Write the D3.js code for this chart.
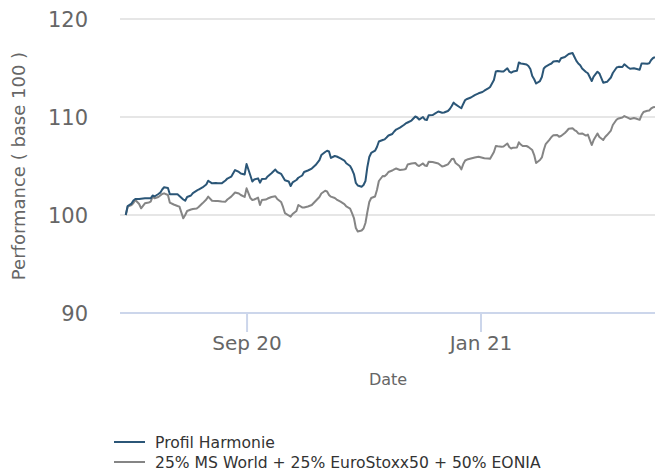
<!DOCTYPE html>
<html><head><meta charset="utf-8">
<script src="https://cdn.jsdelivr.net/npm/d3@7"></script>
<style>
html,body{margin:0;padding:0;background:#fff;}
svg{display:block;font-family:"DejaVu Sans",Verdana,sans-serif;}
</style></head>
<body><svg id="chart" width="655" height="472"></svg>
<script>
const dates = ["2020-06-30","2020-07-01","2020-07-03","2020-07-04","2020-07-05","2020-07-07","2020-07-08","2020-07-10","2020-07-12","2020-07-13",
"2020-07-14","2020-07-15","2020-07-17","2020-07-18","2020-07-19","2020-07-20","2020-07-22","2020-07-23","2020-07-25","2020-07-27",
"2020-07-28","2020-07-30","2020-07-31","2020-08-01","2020-08-03","2020-08-04","2020-08-06","2020-08-07","2020-08-09","2020-08-11",
"2020-08-12","2020-08-14","2020-08-16","2020-08-17","2020-08-19","2020-08-21","2020-08-22","2020-08-24","2020-08-26","2020-08-28",
"2020-08-29","2020-08-31","2020-09-01","2020-09-03","2020-09-04","2020-09-05","2020-09-07","2020-09-08","2020-09-09","2020-09-11",
"2020-09-12","2020-09-14","2020-09-16","2020-09-17","2020-09-19","2020-09-20","2020-09-21","2020-09-23","2020-09-24","2020-09-25",
"2020-09-27","2020-09-28","2020-09-30","2020-10-01","2020-10-03","2020-10-05","2020-10-07","2020-10-09","2020-10-10","2020-10-12",
"2020-10-13","2020-10-14","2020-10-15","2020-10-17","2020-10-18","2020-10-20","2020-10-22","2020-10-23","2020-10-25","2020-10-26",
"2020-10-27","2020-10-28","2020-10-29","2020-10-31","2020-11-01","2020-11-02","2020-11-03","2020-11-04","2020-11-05","2020-11-07",
"2020-11-08","2020-11-09","2020-11-11","2020-11-12","2020-11-13","2020-11-14","2020-11-16","2020-11-17","2020-11-18","2020-11-20",
"2020-11-22","2020-11-23","2020-11-24","2020-11-26","2020-11-28","2020-11-29","2020-11-30","2020-12-02","2020-12-03","2020-12-04",
"2020-12-05","2020-12-07","2020-12-08","2020-12-10","2020-12-12","2020-12-13","2020-12-15","2020-12-16","2020-12-17","2020-12-18",
"2020-12-19","2020-12-21","2020-12-22","2020-12-23","2020-12-24","2020-12-25","2020-12-27","2020-12-29","2020-12-31","2021-01-02",
"2021-01-03","2021-01-05","2021-01-06","2021-01-08","2021-01-09","2021-01-10","2021-01-12","2021-01-13","2021-01-15","2021-01-16",
"2021-01-17","2021-01-18","2021-01-20","2021-01-21","2021-01-22","2021-01-23","2021-01-25","2021-01-26","2021-01-27","2021-01-28",
"2021-01-29","2021-01-30","2021-02-01","2021-02-02","2021-02-03","2021-02-04","2021-02-06","2021-02-07","2021-02-08","2021-02-10",
"2021-02-11","2021-02-12","2021-02-14","2021-02-15","2021-02-16","2021-02-18","2021-02-19","2021-02-20","2021-02-21","2021-02-22",
"2021-02-23","2021-02-25","2021-02-26","2021-02-28","2021-03-01","2021-03-03","2021-03-04","2021-03-06","2021-03-07","2021-03-08",
"2021-03-10","2021-03-11","2021-03-13","2021-03-14","2021-03-16","2021-03-17","2021-03-19","2021-03-20","2021-03-22","2021-03-23",
"2021-03-25","2021-03-26","2021-03-27","2021-03-29","2021-03-30","2021-03-31","2021-04-01","2021-04-02"];

const profilHarmonie = [100.00,100.92,101.17,101.48,101.63,101.63,101.66,101.70,101.70,101.70,
101.99,101.89,102.14,102.28,102.60,102.83,102.76,102.11,102.11,102.11,
101.94,101.58,101.46,101.84,101.99,102.24,102.48,102.60,102.81,103.11,
103.50,103.23,103.27,103.23,103.23,103.52,103.72,103.91,104.59,104.39,
104.23,104.13,105.20,104.03,103.42,103.62,103.74,103.30,103.67,103.69,
103.93,104.26,104.64,104.39,104.20,103.88,103.54,103.42,102.96,103.32,
103.57,103.80,104.03,104.39,104.54,104.74,105.10,105.61,106.12,106.43,
106.56,106.48,105.82,106.02,105.97,105.77,105.56,105.28,105.00,104.64,
104.18,103.27,103.01,102.89,103.06,103.47,104.90,105.92,106.33,106.56,
106.94,107.50,107.65,107.72,107.91,108.11,108.27,108.52,108.72,108.91,
109.18,109.34,109.44,109.64,110.05,109.95,109.74,110.00,109.74,109.69,
110.18,110.20,110.31,110.56,110.44,110.46,110.61,110.82,111.12,111.47,
111.28,111.02,110.89,111.33,111.73,111.84,111.99,112.24,112.42,112.55,
112.68,112.91,113.06,113.78,114.64,114.69,114.64,114.64,114.97,114.64,
114.52,114.64,114.71,115.56,115.46,115.44,115.36,115.20,114.90,114.18,
113.85,113.42,113.67,114.08,114.95,115.15,115.36,115.46,115.66,115.71,
115.64,115.99,116.12,116.28,116.43,116.53,116.12,115.73,115.46,115.28,
114.95,114.59,114.46,113.67,114.13,114.62,114.44,113.50,113.55,113.59,
114.03,114.49,115.05,115.12,115.10,115.38,115.05,114.92,114.97,114.92,
114.82,115.46,115.46,115.43,115.48,115.82,116.02,116.12];

const benchmark = [100.00,100.85,101.02,101.22,101.53,101.12,100.68,101.19,101.28,101.36,
101.87,101.70,101.84,101.99,102.14,102.21,102.04,101.26,101.07,100.92,
100.85,99.66,100.00,100.41,100.56,100.61,100.66,100.82,101.19,101.58,
101.87,101.46,101.43,101.43,101.38,101.36,101.58,101.87,102.30,102.19,
102.04,101.84,102.72,101.73,101.53,101.58,101.77,101.02,101.53,101.58,
101.68,101.84,101.91,101.63,101.33,100.82,100.20,99.95,99.83,100.10,
100.41,101.02,100.77,100.77,100.87,101.02,101.43,101.84,102.19,102.47,
102.40,102.04,101.87,101.73,101.58,101.36,101.12,100.87,100.66,100.20,
99.69,98.67,98.32,98.42,98.62,99.18,100.31,101.33,101.73,101.89,
102.55,103.47,103.98,103.95,104.13,104.39,104.54,104.66,104.74,104.59,
104.64,104.69,105.15,105.26,105.31,105.10,105.00,105.26,105.05,105.00,
105.43,105.41,105.36,105.26,104.95,105.00,105.17,105.41,105.71,105.73,
105.31,105.00,104.66,105.20,105.56,105.66,105.77,105.87,105.95,105.85,
105.79,105.77,105.73,106.43,107.04,107.01,106.97,106.99,107.30,106.94,
106.79,106.87,106.89,107.42,107.19,107.04,107.04,106.94,106.79,106.63,
106.12,105.31,105.61,105.87,106.63,107.24,107.70,107.96,108.13,108.16,
107.98,108.06,108.37,108.57,108.80,108.85,108.67,108.55,108.32,108.29,
108.32,108.11,108.21,107.14,107.65,108.32,107.96,107.65,107.96,108.16,
108.62,109.18,109.74,109.85,109.95,110.10,109.90,109.80,109.90,109.85,
109.71,110.20,110.51,110.63,110.66,110.87,110.99,111.02];

const seriesNames = ["Profil Harmonie", "25% MS World + 25% EuroStoxx50 + 50% EONIA"];
const seriesColors = ["#2b5677", "#858585"];
const yTicks = [90, 100, 110, 120];
const xTicks = ["2020-09-01", "2021-01-01"];
const xDomain = ["2020-06-27", "2021-04-02"];
const yTitle = "Performance ( base 100 )";
const xTitle = "Date";

(function () {
const parse = d3.utcParse("%Y-%m-%d");
const svg = d3.select("#chart");
const pLeft = 120, pRight = 655, pTop = 19, pBottom = 313;

const x = d3.scaleUtc().domain(xDomain.map(parse)).range([pLeft, pRight]);
const y = d3.scaleLinear().domain([90, 120]).range([pBottom, pTop]);

// gridlines
svg.append("g").selectAll("line").data(yTicks.filter(v => v !== 90)).join("line")
  .attr("x1", pLeft).attr("x2", pRight)
  .attr("y1", d => y(d)).attr("y2", d => y(d))
  .attr("stroke", "#e6e6e6").attr("stroke-width", 2);

// y axis labels
const yAxis = d3.axisLeft(y).tickValues(yTicks).tickSize(0).tickPadding(0).tickFormat(d3.format("d"));
const gy = svg.append("g").attr("transform", "translate(88,0)").call(yAxis);
gy.select(".domain").remove();
gy.selectAll("text").attr("font-size", 21).attr("fill", "#666").attr("font-family", "DejaVu Sans").attr("dy", "0.36em");

// x axis
const xAxis = d3.axisBottom(x).tickValues(xTicks.map(parse)).tickFormat(d3.utcFormat("%b %y")).tickSize(19).tickPadding(0);
const gx = svg.append("g").attr("transform", `translate(0,${pBottom})`).call(xAxis);
gx.select(".domain").attr("stroke", "#ccd6eb").attr("stroke-width", 2).attr("d", `M${pLeft},0H${pRight}`);
gx.selectAll(".tick line").attr("stroke", "#ccd6eb").attr("stroke-width", 2);
gx.selectAll("text").attr("font-size", 20).attr("fill", "#666").attr("font-family", "DejaVu Sans").attr("y", 37).attr("dy", 0);

// titles
svg.append("text").attr("x", 388).attr("y", 385).attr("text-anchor", "middle")
  .attr("font-size", 16).attr("fill", "#666").text(xTitle);
svg.append("text").attr("transform", "translate(25,166) rotate(-90)").attr("text-anchor", "middle")
  .attr("font-size", 18).attr("fill", "#666").text(yTitle);

// lines
const parsedDates = dates.map(parse);
const line = d3.line().x((d, i) => x(parsedDates[i])).y(d => y(d));
svg.append("defs").append("clipPath").attr("id", "clip").append("rect")
  .attr("x", pLeft).attr("y", 0).attr("width", pRight - pLeft).attr("height", 472);
const g = svg.append("g").attr("clip-path", "url(#clip)");
[[benchmark, 1], [profilHarmonie, 0]].forEach(([s, idx]) => {
  g.append("path").datum(s).attr("d", line).attr("fill", "none")
    .attr("stroke", seriesColors[idx]).attr("stroke-width", 2).attr("stroke-linejoin", "round");
});

// legend
const legend = svg.append("g");
seriesNames.forEach((n, i) => {
  const ly = 442 + i * 20;
  legend.append("line").attr("x1", 114).attr("x2", 145).attr("y1", ly).attr("y2", ly)
    .attr("stroke", seriesColors[i]).attr("stroke-width", 2);
  legend.append("text").attr("x", 155).attr("y", ly + 5.5).attr("font-size", 15.6).attr("fill", "#333").text(n);
});
})();
</script></body></html>
